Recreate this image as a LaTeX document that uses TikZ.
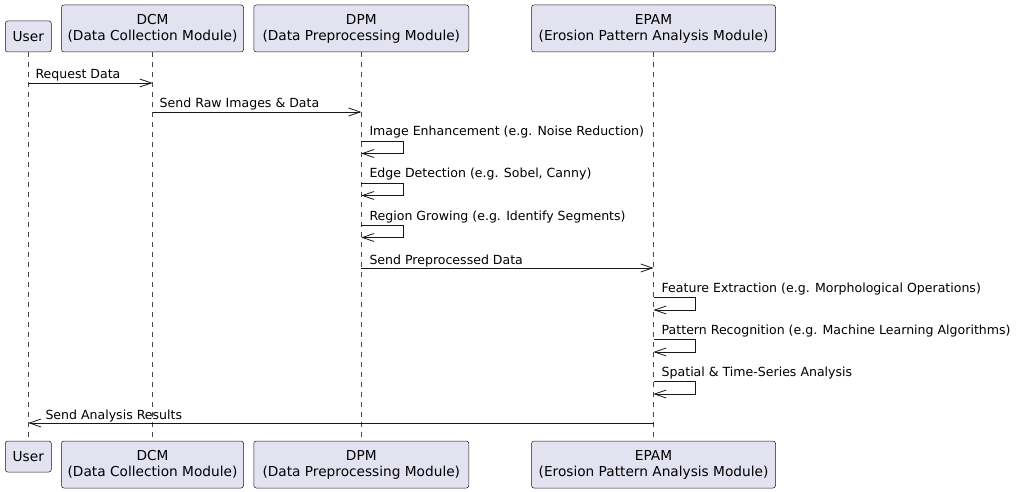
\documentclass[tikz,border=0pt]{standalone}
\usepackage{fontspec}
\setmainfont{DejaVu Sans}
\usetikzlibrary{arrows.meta}
\definecolor{partfill}{HTML}{E2E2F0}
\definecolor{partline}{HTML}{181818}

\begin{document}
\begin{tikzpicture}[x=1pt,y=-1pt,
    part/.style={draw=partline, fill=partfill, line width=0.5pt, rounded corners=2.5pt,
      align=center, inner sep=0pt, font=\fontsize{13.7}{16}\selectfont},
    life/.style={draw=partline!80, line width=0.45pt, dash pattern=on 5pt off 5pt},
    msg/.style={draw=partline, line width=0.8pt, -{Straight Barb[length=11.5pt,width=8pt]}},
    lbl/.style={anchor=base west, inner sep=0pt, font=\fontsize{12.55}{14}\selectfont}]
    \useasboundingbox (0,0) rectangle (1018,492);

    % participants on top
    \node[part, minimum width=46pt, minimum height=31pt] (userTop) at (28.3,36.5) {User};
    \node[part, minimum width=182pt, minimum height=47pt] (dcmTop) at (152.5,28.5) {DCM\\(Data Collection Module)};
    \node[part, minimum width=215pt, minimum height=47pt] (dpmTop) at (361.3,28.5) {DPM\\(Data Preprocessing Module)};
    \node[part, minimum width=244pt, minimum height=47pt] (epamTop) at (653.5,28.5) {EPAM\\(Erosion Pattern Analysis Module)};

    % participants at the bottom
    \node[part, minimum width=46pt, minimum height=31pt] (userBot) at (28.3,456.5) {User};
    \node[part, minimum width=182pt, minimum height=47pt] (dcmBot) at (152.5,464.5) {DCM\\(Data Collection Module)};
    \node[part, minimum width=215pt, minimum height=47pt] (dpmBot) at (361.3,464.5) {DPM\\(Data Preprocessing Module)};
    \node[part, minimum width=244pt, minimum height=47pt] (epamBot) at (653.5,464.5) {EPAM\\(Erosion Pattern Analysis Module)};

    % lifelines
    \draw[life] (userTop) -- (userBot);
    \draw[life] (dcmTop) -- (dcmBot);
    \draw[life] (dpmTop) -- (dpmBot);
    \draw[life] (epamTop) -- (epamBot);

    % Request Data
    \draw[msg] (userTop |- 0,83) -- (dcmTop |- 0,83);
    \path (userTop |- 0,79) ++(7,0) node[lbl] {Request Data};

    % Send Raw Images & Data
    \draw[msg] (dcmTop |- 0,112) -- (dpmTop |- 0,112);
    \path (dcmTop |- 0,108) ++(7,0) node[lbl] {Send Raw Images \& Data};

    % self messages on DPM
    \foreach \y/\txt in {141/{Image Enhancement (e.g. Noise Reduction)},
                         183/{Edge Detection (e.g. Sobel, Canny)},
                         225/{Region Growing (e.g. Identify Segments)}} {
      \draw[msg] (dpmTop |- 0,\y) -- ++(42,0) -- ++(0,12.5) -- (dpmTop |- 0,\y+12.5);
      \path (dpmTop |- 0,\y-5) ++(8,0) node[lbl] {\txt};
    }

    % Send Preprocessed Data
    \draw[msg] (dpmTop |- 0,268) -- (epamTop |- 0,268);
    \path (dpmTop |- 0,264) ++(8,0) node[lbl] {Send Preprocessed Data};

    % self messages on EPAM
    \foreach \y/\txt in {297.5/{Feature Extraction (e.g. Morphological Operations)},
                         339.5/{Pattern Recognition (e.g. Machine Learning Algorithms)},
                         381.5/{Spatial \& Time-Series Analysis}} {
      \draw[msg] (epamTop |- 0,\y) -- ++(42,0) -- ++(0,12.5) -- (epamTop |- 0,\y+12.5);
      \path (epamTop |- 0,\y-5) ++(8,0) node[lbl] {\txt};
    }

    % Send Analysis Results
    \draw[msg] (epamTop |- 0,423) -- (userTop |- 0,423);
    \path (userTop |- 0,419) ++(17,0) node[lbl] {Send Analysis Results};

\end{tikzpicture}
\end{document}
